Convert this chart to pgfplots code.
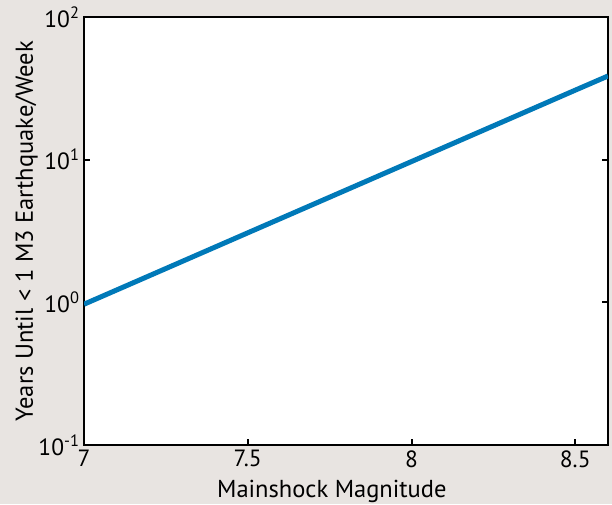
\documentclass[border=0pt]{standalone}
\usepackage{pgfplots}
\pgfplotsset{compat=1.18}
\usepackage{fontspec}
\setmainfont{PT Sans}
\definecolor{bgc}{HTML}{E8E4E1}
\definecolor{linec}{HTML}{0079B8}
\begin{document}
\begin{tikzpicture}
\useasboundingbox (0,0) rectangle (612pt,504pt);
\fill[bgc] (0,0) rectangle (612pt,504pt);
\begin{axis}[
  scale only axis,
  width=524pt, height=428pt,
  at={(84pt,59pt)}, anchor=south west,
  ymode=log,
  xmin=7, xmax=8.6, ymin=0.1, ymax=100,
  xtick={7,7.5,8,8.5},
  xticklabels={7,7.5,8,8.5},
  ytick={0.1,1,10,100},
  yticklabels={10\textsuperscript{-1},10\textsuperscript{0},10\textsuperscript{1},10\textsuperscript{2}},
  minor tick num=0,
  yminorticks=false,
  xtick pos=left,
  ytick pos=both,
  tick align=inside,
  major tick length=6pt,
  axis line style={line width=2pt},
  every tick/.style={line width=2pt, black},
  axis background/.style={fill=white},
  tick label style={font=\fontsize{23.5}{27}\selectfont},
  label style={font=\fontsize{24.5}{28}\selectfont},
  xlabel={Mainshock Magnitude},
  ylabel={Years Until < 1 M3 Earthquake/Week},
  xlabel style={at={(axis description cs:0.473,0)}, anchor=base, yshift=-52pt},
  ylabel style={at={(axis description cs:0,0.5)}, anchor=base, yshift=51pt},
  yticklabel style={xshift=-1pt},
  xticklabel style={yshift=-2pt},
  clip=true,
]
\addplot[linec, line width=5pt] coordinates {(7,0.97) (7.5,3.07) (8,9.7) (8.5,30.7) (8.6,38.6)};
\end{axis}
\end{tikzpicture}
\end{document}
